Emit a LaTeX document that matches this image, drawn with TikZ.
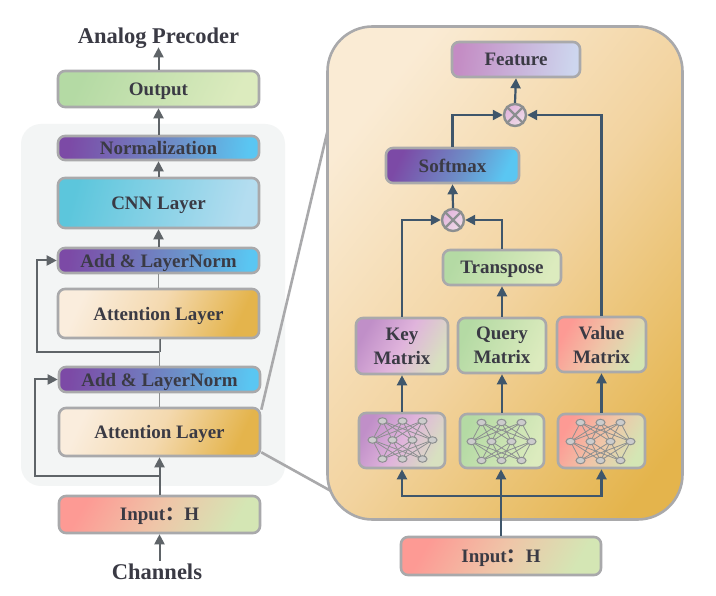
\documentclass[tikz,border=0pt]{standalone}
\usepackage{fontspec}
\setmainfont{Liberation Serif}
\newfontfamily\cjkf{Noto Sans CJK SC}
\usetikzlibrary{arrows.meta,shapes.geometric}
\definecolor{txt}{HTML}{3A3A44}
\definecolor{bord}{HTML}{A9A9AB}
\definecolor{larrow}{HTML}{5F6468}
\definecolor{rarrow}{HTML}{3F566B}
\definecolor{thin}{HTML}{8C8F90}
\definecolor{panelgray}{HTML}{F3F5F5}
\definecolor{a1}{HTML}{FAEDDD}\definecolor{a2}{HTML}{F4D9AF}\definecolor{a3}{HTML}{E4B44C}
\definecolor{b1}{HTML}{FAEBD4}\definecolor{b2}{HTML}{F2D39F}\definecolor{b3}{HTML}{E4B44C}
\definecolor{p1}{HTML}{7C4AA6}\definecolor{p2}{HTML}{6D8FC8}\definecolor{p3}{HTML}{5AC6F2}
\definecolor{g1}{HTML}{B4DAA4}\definecolor{g2}{HTML}{DCEBBE}
\definecolor{c1}{HTML}{5CC6DC}\definecolor{c2}{HTML}{B4DDF0}
\definecolor{r1}{HTML}{FD9A94}\definecolor{r2}{HTML}{EFC5A8}\definecolor{r3}{HTML}{D4E6B4}
\definecolor{k1}{HTML}{C08FC8}\definecolor{k2}{HTML}{E0B4DC}\definecolor{k3}{HTML}{D8E0C0}
\definecolor{f1}{HTML}{C48CC4}\definecolor{f2}{HTML}{CDD6EE}
\definecolor{m1c}{HTML}{E2B4DC}\definecolor{m2c}{HTML}{EFDCE8}
\pgfdeclarehorizontalshading{attns}{100bp}{color(0bp)=(a1); color(25bp)=(a1); color(50bp)=(a2); color(75bp)=(a3); color(100bp)=(a3)}
\pgfdeclarehorizontalshading{purps}{100bp}{color(0bp)=(p1); color(25bp)=(p1); color(55bp)=(p2); color(75bp)=(p3); color(100bp)=(p3)}
\pgfdeclarehorizontalshading{grns}{100bp}{color(0bp)=(g1); color(25bp)=(g1); color(75bp)=(g2); color(100bp)=(g2)}
\pgfdeclarehorizontalshading{cyans}{100bp}{color(0bp)=(c1); color(25bp)=(c1); color(75bp)=(c2); color(100bp)=(c2)}
\pgfdeclarehorizontalshading{reds}{100bp}{color(0bp)=(r1); color(25bp)=(r1); color(50bp)=(r2); color(75bp)=(r3); color(100bp)=(r3)}
\pgfdeclarehorizontalshading{keys}{100bp}{color(0bp)=(k1); color(25bp)=(k1); color(50bp)=(k2); color(75bp)=(k3); color(100bp)=(k3)}
\pgfdeclarehorizontalshading{feats}{100bp}{color(0bp)=(f1); color(25bp)=(f1); color(75bp)=(f2); color(100bp)=(f2)}
\pgfdeclarehorizontalshading{bigs}{100bp}{color(0bp)=(b1); color(25bp)=(b1); color(52bp)=(b2); color(79bp)=(b3); color(100bp)=(b3)}
\pgfdeclarehorizontalshading{mults}{100bp}{color(0bp)=(m1c); color(25bp)=(m1c); color(75bp)=(m2c); color(100bp)=(m2c)}
\tikzset{
  x=1pt,y=-1pt,
  boxs/.style={shade,draw=bord,line width=2.6pt,rounded corners=7pt,inner sep=0pt,align=center,text=txt,text depth=0pt,font=\bfseries\fontsize{19}{24}\selectfont},
  attnb/.style={boxs,shading=attns,shading angle=-25},
  purpb/.style={boxs,shading=purps,shading angle=-8},
  purpc/.style={boxs,shading=purps,shading angle=-25},
  grnb/.style={boxs,shading=grns,shading angle=-25},
  cyanb/.style={boxs,shading=cyans,shading angle=-15},
  redb/.style={boxs,shading=reds,shading angle=-30},
  keyb/.style={boxs,shading=keys,shading angle=-30},
  featb/.style={boxs,shading=feats,shading angle=-8},
  larr/.style={draw=larrow,line width=2pt,-{Triangle[length=10pt,width=10pt,fill=larrow]}},
  lline/.style={draw=larrow,line width=2pt},
  tline/.style={draw=thin,line width=1.4pt},
  rarr/.style={draw=rarrow,line width=2.2pt,-{Triangle[length=10pt,width=10pt,fill=rarrow]}},
  rline/.style={draw=rarrow,line width=2.2pt},
  zoomline/.style={draw=bord,line width=2.6pt},
  mult/.style={circle,shade,shading=mults,shading angle=-45,draw=thin,line width=2.4pt,minimum size=22pt,inner sep=0pt},
  lab/.style={text=txt,text depth=0pt,font=\bfseries\fontsize{22.5}{26}\selectfont},
  neuron/.style={ellipse,draw=thin,fill=black!20,line width=1pt,minimum width=9pt,minimum height=6.5pt,inner sep=0pt},
  syn/.style={draw=thin,line width=0.8pt}
}
\newcommand{\bx}[7]{\node[#6,minimum width={(#4-#2)*1pt},minimum height={(#5-#3)*1pt}] (#1) at ({(#2+#4)/2},{(#3+#5)/2}) {#7};}
\newcommand{\netic}[2]{%
  \begin{scope}[shift={(#1,#2)}]
  \foreach \a in {-20,0,20}{\foreach \b in {-30,-10,10,30}{
    \draw[syn] (\a,-19) -- (\b,0); \draw[syn] (\a,19) -- (\b,0);}}
  \foreach \a in {-20,0,20}{\node[neuron] at (\a,-19) {};\node[neuron] at (\a,19) {};}
  \foreach \b in {-30,-10,10,30}{\node[neuron] at (\b,0) {};}
  \end{scope}}
\newcommand{\inlab}{Input{\cjkf\bfseries ：}H}
\begin{document}
\begin{tikzpicture}
\useasboundingbox (0,0) rectangle (716,596);
\fill[white] (0,0) rectangle (716,596);
\fill[panelgray,rounded corners=20pt] (21,124) rectangle (285,486);
\node[lab] (ap) at (158.5,36) {Analog Precoder};
\node[lab] (ch) at (157,572) {Channels};
\bx{out}{58}{71}{259}{107}{grnb}{Output}
\bx{norm}{58}{136}{259}{160}{purpb}{Normalization}
\bx{cnn}{58}{178}{259}{228}{cyanb}{CNN Layer}
\bx{add1}{58}{248}{259}{273}{purpb}{Add \& LayerNorm}
\bx{att1}{58}{289}{259}{338}{attnb}{Attention Layer}
\bx{add2}{59}{367}{260}{392}{purpb}{Add \& LayerNorm}
\bx{att2}{59}{408}{260}{456}{attnb}{Attention Layer}
\bx{inp}{59}{496}{260}{533}{redb}{\inlab}
\coordinate (zt) at (333,108);
\coordinate (zb) at (331,491);
\draw[zoomline] (att2.north east) ++(0,3) -- (zt);
\draw[zoomline] (att2.south east) ++(0,-5) -- (zb);
\node[draw=bord,line width=2.6pt,shade,shading=bigs,shading angle=-38,rounded corners=45pt,minimum width=355pt,minimum height=493pt,inner sep=0pt] (panel) at (505,273) {};
\coordinate (b1) at (159.5,476);
\coordinate (b1l) at (35,476);
\coordinate (b2) at (159.5,352);
\coordinate (b2l) at (37,352);
\draw[larr] (ch.north -| inp.south) -- (inp.south);
\draw[larr] (inp.north) -- (att2.south);
\draw[larr] (b1) -- (b1l) |- (add2.west);
\draw[lline] (att1.south -| b2) -- (b2);
\draw[larr] (b2) -- (b2l) |- (add1.west);
\draw[tline] (att2.north) -- (add2.south);
\draw[tline] (add2.north) -- (att1.south -| add2.north);
\draw[tline] (att1.north) -- (add1.south);
\draw[larr] (add1.north) -- (cnn.south);
\draw[larr] (cnn.north) -- (norm.south);
\draw[larr] (norm.north) -- (out.south);
\draw[larr] (out.north) -- (ap.south);
\bx{feat}{452}{42}{580}{77}{featb}{Feature}
\bx{soft}{386}{148}{519}{183}{purpc}{Softmax}
\bx{trans}{443}{250}{561}{285}{grnb}{Transpose}
\bx{keym}{356}{318}{448}{374}{keyb}{Key\\Matrix}
\bx{qm}{458}{318}{546}{373}{grnb}{Query\\Matrix}
\bx{vm}{557}{317}{646}{372}{redb}{Value\\Matrix}
\bx{kn}{359}{413}{445}{468}{keyb}{}
\bx{qn}{460}{414}{544}{468}{grnb}{}
\bx{vn}{558}{414}{645}{468}{redb}{}
\bx{rinp}{401}{537}{601}{575}{redb}{\inlab}
\netic{402.5}{440}
\netic{501.5}{441.5}
\netic{600.5}{441.5}
\node[mult] (m1) at (515,115) {};
\node[mult] (m2) at (453,220) {};
\foreach \m in {m1,m2}{
  \draw[draw=thin,line width=2.4pt] (\m.north west) -- (\m.south east);
  \draw[draw=thin,line width=2.4pt] (\m.north east) -- (\m.south west);}
\coordinate (bus) at (501,496);
\draw[rline] (rinp.north) -- (bus);
\draw[rarr] (bus) -- (qn.south -| bus);
\draw[rarr] (bus) -| (kn.south);
\draw[rarr] (bus) -| (vn.south);
\draw[rarr] (kn.north) -- (keym.south);
\draw[rarr] (qn.north) -- (qm.south);
\draw[rarr] (vn.north) -- (vm.south);
\draw[rarr] (qm.north) -- (trans.south);
\draw[rarr] (keym.north) |- (m2.west);
\draw[rarr] (trans.north) |- (m2.east);
\draw[rarr] (m2.north) -- (soft.south);
\draw[rarr] (soft.north) |- (m1.west);
\draw[rarr] (vm.north) |- (m1.east);
\draw[rarr] (m1.north) -- (feat.south);
\end{tikzpicture}
\end{document}
